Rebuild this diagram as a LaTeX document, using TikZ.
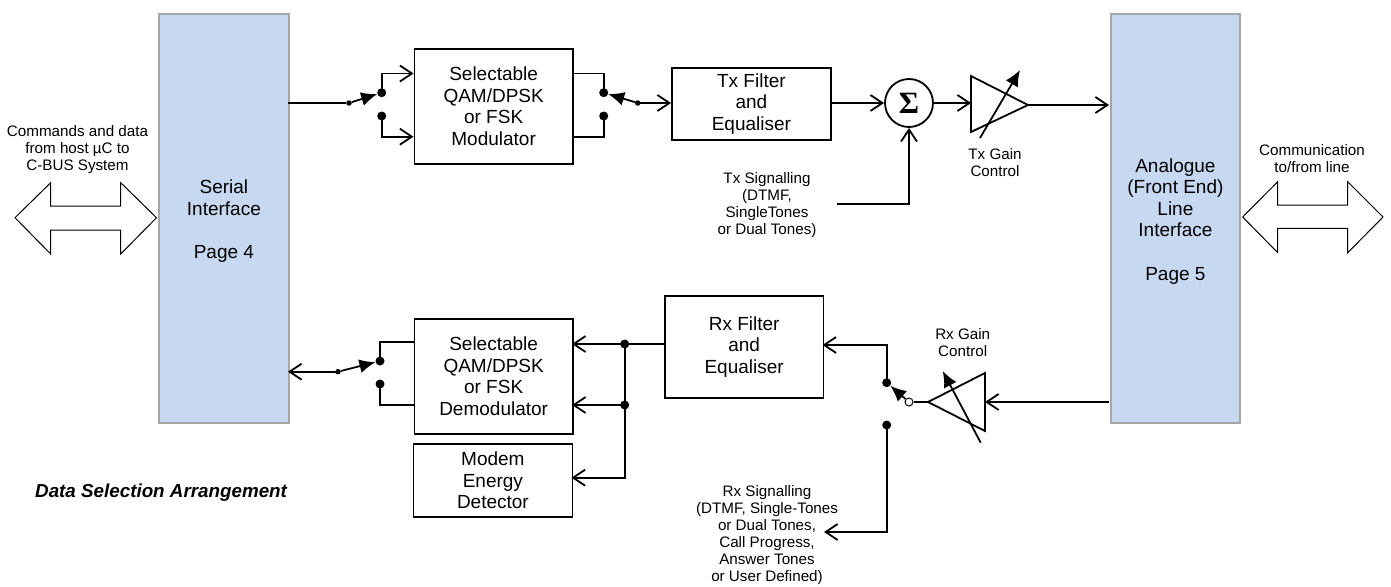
\documentclass[tikz,border=0pt]{standalone}
\usepackage{fontspec}
\setmainfont{Liberation Sans}
\newfontfamily\sigmafont{Liberation Serif}
\usetikzlibrary{arrows.meta}
\definecolor{panel}{HTML}{C6D9F1}
\definecolor{panelline}{HTML}{A6A6A6}
\tikzset{
  x=1pt,y=-1pt,
  wire/.style={line width=1.8pt,line join=miter},
  sig/.style={wire,-{Straight Barb[length=12pt,width=16pt,line width=1.8pt]}},
  blade/.style={wire,-{Latex[length=16pt,width=14pt]}},
  panelbox/.style={draw=panelline,fill=panel,line width=1.8pt,align=center,font=\fontsize{19}{21.5}\selectfont,inner sep=0pt},
  block/.style={draw=black,line width=1.8pt,align=center,font=\fontsize{19}{21.5}\selectfont,inner sep=0pt},
  dot/.style={circle,fill=black,inner sep=0pt,minimum size=9pt},
  pole/.style={circle,fill=black,inner sep=0pt,minimum size=5.5pt},
  opencirc/.style={circle,draw=black,fill=white,line width=1pt,inner sep=0pt,minimum size=8pt},
  note/.style={align=center,font=\fontsize{15.2}{17}\selectfont,inner sep=0pt},
  bigarrow/.style={draw=black,fill=white,line width=1pt,line join=miter},
  amp/.style={draw=black,line width=1.8pt,line join=miter},
}
\newcommand{\blockat}[7]{\node[#7,minimum width=#4pt-#2pt,minimum height=#5pt-#3pt,anchor=north west] (#1) at (#2,#3) {#6};}
\begin{document}
\begin{tikzpicture}
\useasboundingbox (0,0) rectangle (1391,586);
% panels
\blockat{serial}{158}{13}{288}{422}{\rule{0pt}{20pt}Serial\\Interface\\[22pt]Page 4}{panelbox}
\blockat{line}{1110}{13}{1239}{422}{\rule{0pt}{20pt}Analogue\\(Front End)\\Line\\Interface\\[22pt]Page 5}{panelbox}
% blocks
\blockat{mod}{413.5}{48}{572}{163}{Selectable\\QAM/DPSK\\or FSK\\Modulator}{block}
\blockat{txf}{671}{67}{830}{139}{Tx Filter\\and\\Equaliser}{block}
\blockat{rxf}{664}{295}{822.5}{397}{Rx Filter\\and\\Equaliser}{block}
\blockat{dem}{413.5}{318}{572}{433}{Selectable\\QAM/DPSK\\or FSK\\Demodulator}{block}
\blockat{det}{412.5}{443}{571.5}{516}{Modem\\Energy\\Detector}{block}
% summer
\node[circle,draw=black,line width=1.8pt,minimum size=48pt,inner sep=0pt,font=\sigmafont\bfseries\fontsize{31}{31}\selectfont] (sum) at (909,103) {\raisebox{-3pt}{Σ}};
% coordinates
\coordinate (txin) at (288,103);
\node[pole] (p1) at (349,103) {};
\node[dot] (a1) at (381.7,92.7) {};
\node[dot] (b1) at (381.7,116) {};
\coordinate (a1t) at (381.7,73.5);
\coordinate (b1b) at (381.7,136.7);
\coordinate (modi1) at (413.5,73.5);
\coordinate (modi2) at (413.5,136.7);
\draw[wire] (txin) -- (p1);
\draw[blade] (p1) -- (a1);
\draw[sig] (a1.center) -- (a1t) -- (modi1);
\draw[sig] (b1.center) -- (b1b) -- (modi2);
\node[pole] (p2) at (637.7,103) {};
\node[dot] (a2) at (603.7,92.7) {};
\node[dot] (b2) at (603.7,116) {};
\coordinate (modo1) at (572,73.5);
\coordinate (modo2) at (572,136.7);
\draw[wire] (modo1) -| (a2.center);
\draw[wire] (modo2) -| (b2.center);
\draw[blade] (p2) -- (a2);
\coordinate (txfi) at (671,103);
\draw[sig] (p2.center) -- (txfi);
\coordinate (txfo) at (830,103);
\draw[sig] (txfo) -- (sum.west);
% tx amp
\coordinate (ta) at (971,76);
\coordinate (tb) at (971,132);
\coordinate (tc) at (1028,105);
\coordinate (tm) at (971,103);
\draw[amp] (ta) -- (tc) -- (tb) -- cycle;
\draw[sig] (sum.east) -- (tm);
\coordinate (lineo) at (1109,105);
\draw[sig] (tc) -- (lineo);
\coordinate (tg1) at (980,138);
\coordinate (tg2) at (1020,70);
\draw[blade] (tg1) -- (tg2);
\coordinate (ts) at (837,204);
\draw[sig] (ts) -| (sum.south);
% rx amp
\coordinate (ra) at (928,402);
\coordinate (rb) at (985,373);
\coordinate (rc) at (985,431);
\coordinate (rm) at (985,402);
\draw[amp] (ra) -- (rb) -- (rc) -- cycle;
\coordinate (linei) at (1109,402);
\draw[sig] (linei) -- (rm);
\coordinate (rg1) at (980.7,442.7);
\coordinate (rg2) at (942.7,371);
\draw[blade] (rg1) -- (rg2);
\node[dot] (a3) at (886.7,382.7) {};
\node[dot] (b3) at (886.7,425) {};
\node[opencirc] (o3) at (909,402) {};
\draw[wire] (ra) -- (o3);
\draw[blade] (o3) -- (a3);
\coordinate (rxi) at (822.5,345);
\draw[sig] (a3.center) |- (rxi);
\coordinate (rs) at (824,532);
\draw[sig] (b3.center) |- (rs);
% rx out
\coordinate (rxo) at (664,344);
\coordinate (demi1) at (572,344);
\coordinate (demi2) at (572,405);
\coordinate (deti) at (571.5,477.7);
\node[dot] (j1) at (624.7,344) {};
\node[dot] (j2) at (624.7,405) {};
\draw[sig] (rxo) -- (demi1);
\draw[sig] (j2.center) -- (demi2);
\draw[wire] (j1.center) -- (j2.center);
\draw[sig] (j2.center) |- (deti);
% demod switch
\coordinate (dout) at (288,371.7);
\node[pole] (p4) at (338,371.7) {};
\node[dot] (a4) at (380,361) {};
\node[dot] (b4) at (380,384) {};
\draw[sig] (p4.center) -- (dout);
\draw[blade] (p4) -- (a4);
\coordinate (demo1) at (413.5,342.3);
\coordinate (demo2) at (413.5,405);
\draw[wire] (a4.center) |- (demo1);
\draw[wire] (b4.center) |- (demo2);
% big arrows
\draw[bigarrow] (15,217.7) -- (50.7,182.7) -- (50.7,206) -- (120.7,206) -- (120.7,182.7) -- (156.5,217.7) -- (120.7,254) -- (120.7,230) -- (50.7,230) -- (50.7,254) -- cycle;
\draw[bigarrow] (1242.7,217) -- (1277.7,181.7) -- (1277.7,205) -- (1347.7,205) -- (1347.7,181.7) -- (1383,217) -- (1347.7,252.7) -- (1347.7,228.3) -- (1277.7,228.3) -- (1277.7,252.7) -- cycle;
% notes
\node[note] (n1) at (77.5,149.5) {Commands and data\\from host µC to\\C-BUS System};
\node[note] (n2) at (1312,158.5) {Communication\\to/from line};
\node[note] (n3) at (767,205) {Tx Signalling\\(DTMF,\\SingleTones\\or Dual Tones)};
\node[note] (n4) at (995,162.5) {Tx Gain\\Control};
\node[note] (n5) at (962.7,342.5) {Rx Gain\\Control};
\node[note] (n6) at (767,535.5) {Rx Signalling\\(DTMF, Single-Tones\\or Dual Tones,\\Call Progress,\\Answer Tones\\or User Defined)};
\node[font=\bfseries\itshape\fontsize{18.8}{20}\selectfont,anchor=west,inner sep=0pt] (title) at (35,493) {Data Selection Arrangement};
\end{tikzpicture}
\end{document}
